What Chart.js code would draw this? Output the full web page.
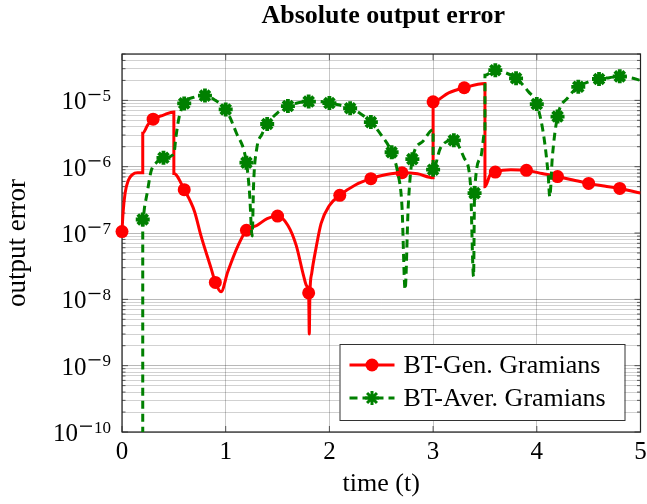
<!DOCTYPE html>
<html>
<head>
<meta charset="utf-8">
<script src="https://cdn.jsdelivr.net/npm/chart.js@4.4.1/dist/chart.umd.min.js"></script>
<style>
html, body { margin: 0; padding: 0; background: #fff; }
</style>
</head>
<body>
<canvas id="errChart" width="647" height="504"></canvas>
<script>
// BT-Gen. Gramians (red, circles every 0.3)
const genTime = [0, 0.01, 0.03, 0.06, 0.1, 0.15, 0.2, 0.2, 0.25, 0.3, 0.4, 0.5, 0.5, 0.6, 0.7, 0.76, 0.86, 0.9, 0.955,
  1.02, 1.12, 1.2, 1.3, 1.4, 1.5, 1.6, 1.68, 1.75, 1.78, 1.8, 1.806, 1.812, 1.83, 1.87, 1.92, 2.0, 2.1, 2.25, 2.4,
  2.55, 2.7, 2.85, 3.0, 3.0, 3.15, 3.3, 3.5, 3.5, 3.55, 3.6, 3.75, 3.9, 4.05, 4.2, 4.35, 4.5, 4.65, 4.8, 5.0];
const genError = [1.05e-7, 2.0e-7, 4.0e-7, 6.2e-7, 7.6e-7, 8.1e-7, 8.1e-7, 3.2e-6, 4.3e-6, 5.2e-6, 6.0e-6, 6.7e-6, 7.9e-7,
  4.5e-7, 2.1e-7, 9.3e-8, 2.9e-8, 1.8e-8, 1.3e-8, 2.6e-8, 6.5e-8, 1.1e-7, 1.3e-7, 1.65e-7, 1.8e-7, 1.3e-7, 6.5e-8,
  2.3e-8, 1.6e-8, 1.25e-8, 3e-9, 1.2e-8, 2.5e-8, 5.8e-8, 1.4e-7, 2.6e-7, 3.7e-7, 5.3e-7, 6.6e-7, 7.6e-7, 8.1e-7,
  7.8e-7, 6.8e-7, 9.5e-6, 1.3e-5, 1.55e-5, 1.8e-5, 5e-7, 7.5e-7, 8.3e-7, 9.0e-7, 8.8e-7, 7.9e-7, 7.1e-7, 6.3e-7,
  5.6e-7, 5.1e-7, 4.7e-7, 4.0e-7];

// BT-Aver. Gramians (green, stars every 0.2)
const averTime = [0.2, 0.2, 0.22, 0.24, 0.28, 0.33, 0.4, 0.5, 0.52, 0.55, 0.6, 0.7, 0.8, 0.9, 1.0, 1.1, 1.2, 1.23, 1.255,
  1.27, 1.3, 1.35, 1.4, 1.5, 1.6, 1.7, 1.8, 1.9, 2.0, 2.1, 2.2, 2.3, 2.4, 2.5, 2.6, 2.66, 2.7, 2.73, 2.76, 2.8, 2.9,
  3.0, 3.0, 3.07, 3.2, 3.3, 3.36, 3.39, 3.4, 3.46, 3.5, 3.5, 3.6, 3.7, 3.8, 3.92, 4.0, 4.07, 4.11, 4.125, 4.15, 4.2,
  4.3, 4.4, 4.5, 4.6, 4.7, 4.8, 4.9, 5.0];
const averError = [1e-12, 1.6e-7, 2.6e-7, 3.8e-7, 8.5e-7, 1.15e-6, 1.36e-6, 1.55e-6, 2.8e-6, 5.5e-6, 9e-6, 1.12e-5,
  1.18e-5, 1.0e-5, 7.3e-6, 3.3e-6, 1.15e-6, 4e-7, 9e-8, 6e-7, 1.9e-6, 3.1e-6, 4.4e-6, 6.5e-6, 8.2e-6, 9.2e-6, 9.6e-6,
  9.6e-6, 9.1e-6, 8.5e-6, 7.6e-6, 6.3e-6, 4.7e-6, 3.0e-6, 1.65e-6, 8e-7, 2.5e-7, 1.4e-8, 2.5e-7, 1.3e-6, 2.4e-6,
  3.6e-6, 9e-7, 1.9e-6, 2.5e-6, 1.35e-6, 5.5e-7, 2.2e-8, 4e-7, 1.4e-6, 3.4e-6, 2.4e-5, 2.85e-5, 2.6e-5, 2.15e-5,
  1.35e-5, 8.8e-6, 2.7e-6, 7.4e-7, 3.5e-7, 1.4e-6, 5.7e-6, 1.1e-5, 1.6e-5, 1.9e-5, 2.1e-5, 2.2e-5, 2.3e-5, 2.2e-5,
  2.0e-5];

const seriesNames = ['BT-Gen. Gramians', 'BT-Aver. Gramians'];
const yDecades = [-10, -9, -8, -7, -6, -5];
const xTicks = [0, 1, 2, 3, 4, 5];

const serif = "'Liberation Serif', 'Times New Roman', serif";
const red = 'rgb(255,0,0)';
const green = 'rgb(0,128,0)';

// a mark every `step`, on the last sample of a jump
function isMark(times, i, step) {
  const t = times[i];
  const k = t / step;
  if (Math.abs(k - Math.round(k)) > 1e-6 || t >= 5) return false;
  return !(i + 1 < times.length && times[i + 1] === t);
}

const framePlugin = {
  id: 'frame',
  beforeDatasetsDraw(chart) {
    const { ctx, chartArea: a, scales } = chart;
    ctx.save();
    ctx.strokeStyle = '#333';
    ctx.lineWidth = 0.8;
    ctx.beginPath();
    scales.y.ticks.forEach(t => {
      const py = scales.y.getPixelForValue(t.value);
      const len = t.major ? 6 : 3.5;
      ctx.moveTo(a.left, py); ctx.lineTo(a.left + len, py);
      ctx.moveTo(a.right, py); ctx.lineTo(a.right - len, py);
    });
    xTicks.forEach(v => {
      const px = scales.x.getPixelForValue(v);
      ctx.moveTo(px, a.bottom); ctx.lineTo(px, a.bottom - 6);
      ctx.moveTo(px, a.top); ctx.lineTo(px, a.top + 6);
    });
    ctx.stroke();
    ctx.strokeStyle = '#222';
    ctx.lineWidth = 1.2;
    ctx.strokeRect(a.left, a.top, a.right - a.left, a.bottom - a.top);
    ctx.restore();
  },
  afterDraw(chart) {
    const { ctx, chartArea: a, scales } = chart;
    ctx.save();
    // title
    ctx.fillStyle = '#000';
    ctx.font = 'bold 26px ' + serif;
    ctx.textAlign = 'center';
    ctx.textBaseline = 'alphabetic';
    ctx.fillText('Absolute output error', (a.left + a.right) / 2 + 2, 23);

    // y tick labels 10^n
    ctx.textAlign = 'right';
    yDecades.forEach(e => {
      const py = scales.y.getPixelForValue(Math.pow(10, e));
      const num = String(Math.abs(e));
      ctx.font = '17px ' + serif;
      const nw = ctx.measureText(num).width;
      ctx.fillText(num, 111, py + 0.5);
      // wide minus like TeX
      ctx.fillRect(111 - nw - 14, py - 6.5, 12, 1.3);
      ctx.font = '25px ' + serif;
      ctx.fillText('10', 111 - nw - 16, py + 9);
    });

    // legend
    const w = 285, h = 76;
    const left = a.right - 16 - w, top = a.bottom - 12 - h;
    ctx.fillStyle = '#fff';
    ctx.fillRect(left, top, w, h);
    ctx.strokeStyle = '#333';
    ctx.lineWidth = 1;
    ctx.strokeRect(left + 0.5, top + 0.5, w, h);
    const rows = [
      { y: top + 21, color: red, dash: [], style: 'circle', r: 6.5, bw: 0 },
      { y: top + 54, color: green, dash: [8, 5], style: 'star', r: 7, bw: 3.8 }
    ];
    rows.forEach((row, i) => {
      ctx.strokeStyle = row.color;
      ctx.fillStyle = row.color;
      ctx.lineWidth = 3;
      ctx.setLineDash(row.dash);
      ctx.beginPath();
      ctx.moveTo(left + 10, row.y);
      ctx.lineTo(left + 55, row.y);
      ctx.stroke();
      ctx.setLineDash([]);
      Chart.helpers.drawPoint(ctx, { pointStyle: row.style, radius: row.r, borderWidth: row.bw, rotation: 0 }, left + 32.5, row.y);
      ctx.fillStyle = '#000';
      ctx.font = '26px ' + serif;
      ctx.textAlign = 'left';
      ctx.textBaseline = 'middle';
      ctx.fillText(seriesNames[i], left + 64, row.y + 1);
    });
    ctx.restore();
  }
};

const genData = genTime.map((t, i) => ({ x: t, y: genError[i] }));
const averData = averTime.map((t, i) => ({ x: t, y: averError[i] }));

const errChart = new Chart(document.getElementById('errChart').getContext('2d'), {
  type: 'line',
  data: {
    datasets: [{
      label: seriesNames[0],
      data: genData,
      order: 2,
      borderColor: red,
      backgroundColor: red,
      borderWidth: 3,
      cubicInterpolationMode: 'monotone',
      pointStyle: 'circle',
      pointRadius: ctx => isMark(genTime, ctx.dataIndex, 0.3) ? 6.5 : 0,
      pointBorderWidth: 0,
      clip: { left: 10, top: 0, right: 0, bottom: 0 }
    }, {
      label: seriesNames[1],
      data: averData,
      order: 1,
      borderColor: green,
      backgroundColor: green,
      borderWidth: 3,
      borderDash: [8, 5],
      cubicInterpolationMode: 'monotone',
      pointStyle: 'star',
      pointRadius: ctx => isMark(averTime, ctx.dataIndex, 0.2) ? 7 : 0,
      pointBorderWidth: 3.8,
      clip: { left: 0, top: 6, right: 0, bottom: 0 }
    }]
  },
  options: {
    responsive: false,
    devicePixelRatio: 1,
    animation: false,
    layout: { padding: { top: 54, right: 3, left: 0, bottom: 0 } },
    plugins: {
      legend: { display: false },
      tooltip: { enabled: false }
    },
    scales: {
      x: {
        type: 'linear',
        min: 0,
        max: 5,
        afterBuildTicks: scale => { scale.ticks = xTicks.map(v => ({ value: v })); },
        afterFit: scale => { scale.height = 72; scale.paddingLeft = 0; scale.paddingRight = 0; },
        ticks: { color: '#000', font: { family: serif, size: 25 }, padding: 5, maxRotation: 0 },
        grid: { color: 'rgba(0,0,0,0.22)', drawTicks: false },
        border: { display: false },
        title: { display: true, text: 'time (t)', color: '#000', font: { family: serif, size: 26 }, padding: { top: 0, bottom: 4 } }
      },
      y: {
        type: 'logarithmic',
        min: 1e-10,
        max: 5e-5,
        afterBuildTicks: scale => {
          const ticks = [];
          yDecades.forEach(e => {
            for (let m = 1; m <= 9; m++) {
              const v = m * Math.pow(10, e);
              if (v <= 5.0001e-5) ticks.push({ value: v, major: m === 1 });
            }
          });
          scale.ticks = ticks;
        },
        afterFit: scale => { scale.width = 122; scale.paddingTop = 0; scale.paddingBottom = 0; },
        ticks: { display: false },
        grid: {
          drawTicks: false,
          color: ctx => (ctx.tick && ctx.tick.major) ? 'rgba(0,0,0,0.28)' : 'rgba(0,0,0,0.18)'
        },
        border: { display: false },
        title: { display: true, text: 'output error', color: '#000', font: { family: serif, size: 27 }, padding: { top: 2, bottom: 0 } }
      }
    }
  },
  plugins: [framePlugin]
});
</script>
</body>
</html>
